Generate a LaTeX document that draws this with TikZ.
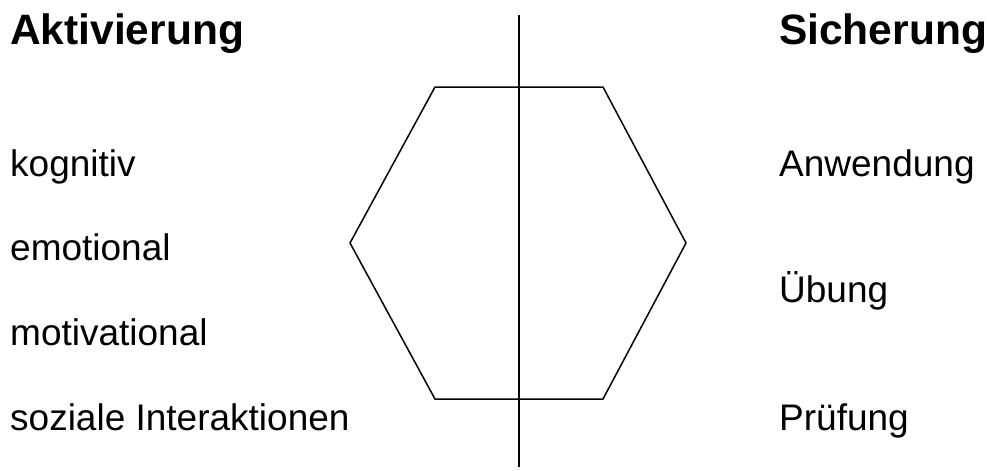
\documentclass[tikz,border=0pt]{standalone}
\usepackage{fontspec}
\setmainfont{Liberation Sans}
\usetikzlibrary{calc}

\tikzset{
  head/.style={anchor=base west, inner sep=0pt, font=\fontsize{42.5}{50}\selectfont\bfseries},
  item/.style={anchor=base west, inner sep=0pt, font=\fontsize{37}{44}\selectfont},
  outline/.style={line width=1.5pt, line join=miter}
}

\begin{document}
\begin{tikzpicture}[x=1pt, y=-1pt]
  \useasboundingbox (0,0) rectangle (989,471);

  % headings
  \node[head] (akt) at (10,45) {Aktivierung};
  \node[head] (sich) at (779,45) {Sicherung};

  % left column
  \node[item] (kog) at (10,176) {kognitiv};
  \node[item] (emo) at (10,260.7) {emotional};
  \node[item] (mot) at (10,345.3) {motivational};
  \node[item] (soz) at (10,430) {soziale Interaktionen};

  % right column
  \node[item] (anw) at (779,176) {Anwendung};
  \node[item] (ueb) at (779,302) {Übung};
  \node[item] (pruef) at (779,430) {Prüfung};

  % hexagon
  \draw[outline] (435,87) -- (603,87) -- (686,243) -- (603,399)
    -- (435,399) -- (350,243) -- cycle;

  % axis
  \coordinate (axtop) at (519,15);
  \coordinate (axbot) at (519,467);
  \draw[outline] (axtop) -- (axbot);
\end{tikzpicture}
\end{document}
